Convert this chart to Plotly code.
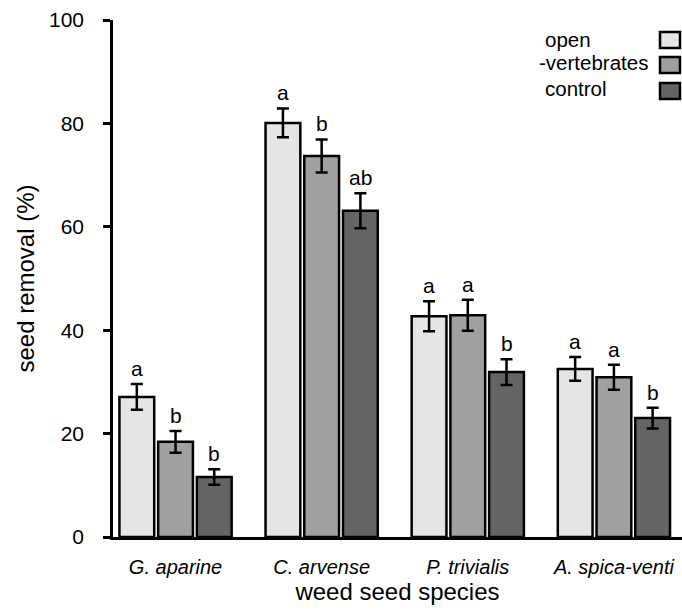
import plotly.graph_objects as go

# Seed removal (%) per weed species and exclusion treatment
species = ["G. aparine", "C. arvense", "P. trivialis", "A. spica-venti"]
treatments = ["open", "-vertebrates", "control"]
open_vals = [27.1, 80.1, 42.7, 32.5]
vert_vals = [18.4, 73.7, 42.9, 30.9]
control_vals = [11.6, 63.1, 31.9, 23.0]
open_err = [2.5, 2.8, 2.9, 2.3]
vert_err = [2.1, 3.2, 3.0, 2.4]
control_err = [1.5, 3.4, 2.5, 2.0]
open_letters = ["a", "a", "a", "a"]
vert_letters = ["b", "b", "a", "a"]
control_letters = ["b", "ab", "b", "b"]
y_ticks = [0, 20, 40, 60, 80, 100]

colors = ["#e5e5e5", "#a0a0a0", "#646464"]
series = [open_vals, vert_vals, control_vals]
errors = [open_err, vert_err, control_err]
letters = [open_letters, vert_letters, control_letters]
offsets = [-0.265, 0.0, 0.265]
FONT = "Liberation Sans, Arial, sans-serif"

# plot-area geometry in pixels (used to place the hand-built legend)
W, H = 682, 610
L, R, T, B = 113, 0, 20, 73
PW, PH = W - L - R, H - T - B

fig = go.Figure()
annotations = []
for k, name in enumerate(treatments):
    xs = [i + offsets[k] for i in range(len(species))]
    fig.add_trace(go.Bar(
        x=xs, y=series[k], name=name, width=0.238,
        marker=dict(color=colors[k], line=dict(color="black", width=2.5)),
        error_y=dict(type="data", array=errors[k], visible=True,
                     color="black", thickness=2.5, width=6),
        showlegend=False,
    ))
    for x, v, e, t in zip(xs, series[k], errors[k], letters[k]):
        annotations.append(dict(
            x=x, y=v + e, text=t, showarrow=False, xref="x", yref="y",
            yanchor="bottom", yshift=2,
            font=dict(family=FONT, size=21, color="black"),
        ))

# Legend: labels on the left, swatches on the right
shapes = []
legend_rows = [(39, 543), (63, 537), (89, 543)]
box_centers = [40, 65, 91]
for k, name in enumerate(treatments):
    yc, xl = legend_rows[k]
    annotations.append(dict(
        x=(xl - L) / PW, y=(H - B - yc) / PH, xref="paper", yref="paper",
        xanchor="left", yanchor="middle", text=name, showarrow=False,
        font=dict(family=FONT, size=20.5, color="black"),
    ))
    bc = box_centers[k]
    shapes.append(dict(
        type="rect", xref="paper", yref="paper",
        x0=(660 - L) / PW, x1=(680 - L) / PW,
        y0=(H - B - (bc + 8)) / PH, y1=(H - B - (bc - 8)) / PH,
        fillcolor=colors[k], line=dict(color="black", width=2.5),
    ))

fig.update_layout(
    width=W, height=H,
    margin=dict(l=L, r=R, t=T, b=B),
    plot_bgcolor="white", paper_bgcolor="white",
    barmode="overlay",
    font=dict(family=FONT, color="black"),
    annotations=annotations,
    shapes=shapes,
    xaxis=dict(
        range=[-0.428, 3.466], tickvals=list(range(len(species))),
        ticktext=[f"<i>{s}</i>" for s in species],
        showline=True, linecolor="black", linewidth=2.5,
        ticks="", showgrid=False, zeroline=False,
        tickfont=dict(family=FONT, size=20),
        ticklabelstandoff=10,
        title=dict(text="weed seed species", font=dict(family=FONT, size=24), standoff=4),
    ),
    yaxis=dict(
        range=[0, 100], tickvals=y_ticks,
        showline=True, linecolor="black", linewidth=2.5,
        ticks="outside", ticklen=7, tickwidth=2.5, tickcolor="black",
        showgrid=False, zeroline=False,
        tickfont=dict(family=FONT, size=21),
        ticklabelstandoff=15,
        title=dict(text="seed removal (%)", font=dict(family=FONT, size=24), standoff=8),
    ),
)

fig.write_html("out.html")
